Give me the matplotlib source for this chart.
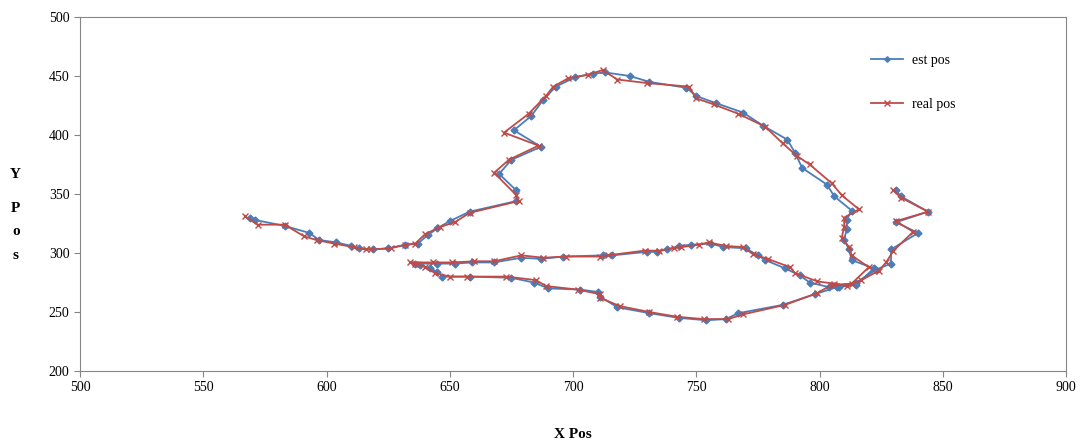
import matplotlib
matplotlib.use("Agg")
import matplotlib.pyplot as plt

plt.rcParams['font.family'] = ['Liberation Serif', 'DejaVu Serif']

# estimated position track
est_x = [569, 571, 583, 593, 597, 604, 610, 613, 619, 625, 632, 637, 641, 645, 650, 658,
         677, 677, 670, 675, 687, 676, 683, 688, 693, 701, 708, 713, 723, 731, 746, 750,
         758, 769, 777, 787, 790, 793, 803, 806, 813, 811, 811, 810, 812, 813, 822, 815,
         807, 798, 785, 767, 762, 754, 743, 731, 718, 711, 710, 703, 690, 684, 675, 658,
         647, 645, 642, 638, 636, 645, 652, 659, 668, 679, 687, 696, 712, 716, 730, 734,
         738, 743, 748, 756, 761, 770, 775, 778, 786, 792, 796, 804, 808, 815, 823, 829,
         829, 840, 831, 844, 833, 831]
est_y = [330, 328, 323, 317, 311, 309, 306, 304, 303, 304, 307, 308, 315, 321, 327, 335,
         344, 353, 367, 379, 390, 404, 416, 430, 441, 449, 452, 453, 450, 445, 440, 433,
         427, 419, 408, 396, 385, 372, 358, 348, 336, 328, 320, 311, 303, 294, 287, 273,
         271, 265, 256, 249, 244, 243, 245, 249, 254, 263, 267, 269, 270, 275, 279, 280,
         280, 284, 287, 290, 291, 291, 291, 292, 292, 296, 295, 297, 298, 298, 301, 301,
         303, 306, 307, 308, 305, 304, 298, 294, 287, 281, 275, 271, 271, 275, 286, 291,
         303, 317, 326, 335, 348, 353]

# real position track
real_x = [567, 572, 583, 591, 596, 603, 611, 616, 618, 626, 632, 636, 640, 646, 652, 658,
          678, 677, 668, 674, 686, 672, 682, 689, 692, 698, 706, 712, 718, 730, 747, 750,
          757, 767, 778, 785, 791, 796, 805, 809, 816, 810, 810, 809, 812, 813, 820, 813,
          805, 799, 786, 769, 763, 753, 742, 731, 719, 711, 711, 702, 689, 685, 673, 657,
          650, 644, 640, 636, 634, 643, 651, 660, 668, 679, 688, 697, 711, 714, 729, 735,
          741, 744, 751, 755, 762, 769, 773, 779, 788, 790, 799, 806, 811, 817, 824, 827,
          830, 838, 831, 844, 833, 830]
real_y = [331, 324, 324, 314, 311, 308, 305, 303, 303, 304, 307, 308, 316, 322, 326, 334,
          344, 349, 368, 379, 391, 402, 418, 433, 441, 448, 451, 455, 447, 444, 441, 431,
          426, 418, 407, 393, 382, 375, 359, 349, 337, 330, 322, 313, 305, 298, 288, 274,
          273, 266, 256, 248, 244, 244, 246, 250, 255, 262, 265, 269, 272, 277, 280, 280,
          280, 283, 288, 291, 292, 292, 292, 293, 293, 298, 296, 297, 297, 298, 302, 302,
          304, 305, 307, 309, 306, 305, 299, 295, 288, 283, 276, 274, 272, 277, 285, 292,
          302, 318, 327, 335, 347, 353]

fig = plt.figure(figsize=(10.86, 4.41), dpi=100)
ax = fig.add_axes([0.0737, 0.1587, 0.9079, 0.8028])

ax.plot(est_x, est_y, color='#4A7EBB', lw=1.3, marker='D', ms=3.5, label='est pos')
ax.plot(real_x, real_y, color='#BE4B48', lw=1.3, marker='x', ms=5, mew=1.0, label='real pos')

ax.set_xlim(500, 900)
ax.set_ylim(200, 500)
ax.set_xticks(range(500, 901, 50))
ax.set_yticks(range(200, 501, 50))
ax.tick_params(direction='out', length=4, labelsize=10, color='#868686')
for s in ax.spines.values():
    s.set_color('#868686')
    s.set_linewidth(0.8)

ax.set_xlabel('X Pos', fontsize=11, fontweight='bold', labelpad=24)
for ch, yy in zip(['Y', 'P', 'o', 's'], [0.605, 0.527, 0.475, 0.421]):
    fig.text(0.0145, yy, ch, fontsize=11, fontweight='bold', ha='center', va='center')

ax.legend(loc='upper left', bbox_to_anchor=(0.79, 0.93), frameon=False,
          labelspacing=2.2, handlelength=2.3, handletextpad=0.6, fontsize=10,
          markerscale=0.8)

fig.savefig('out.png', dpi=100)
